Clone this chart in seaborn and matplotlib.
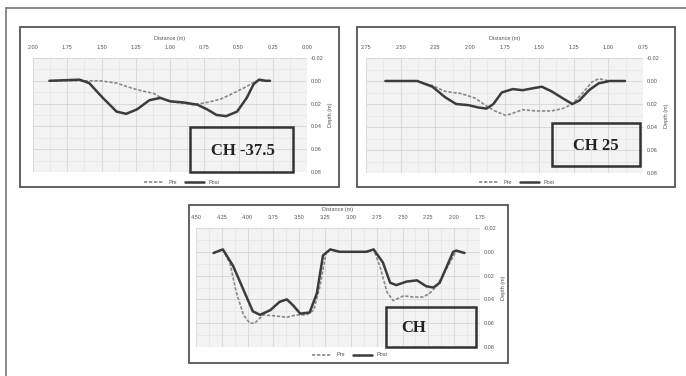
import matplotlib
matplotlib.use('Agg')
import matplotlib.pyplot as plt
import seaborn as sns
from matplotlib.lines import Line2D
from matplotlib.patches import Rectangle
from matplotlib.ticker import MultipleLocator, FormatStrFormatter

W, H = 686, 376

# CH -37.5
ch375_pre_x = [1.88, 1.66, 1.51, 1.39, 1.29, 1.20, 1.12, 1.05, 0.95, 0.83, 0.73, 0.63, 0.54, 0.44, 0.37, 0.27]
ch375_pre_y = [0.000, 0.000, 0.000, 0.002, 0.006, 0.009, 0.011, 0.016, 0.019, 0.021, 0.019, 0.016, 0.011, 0.005, 0.000, 0.000]
ch375_post_x = [1.88, 1.66, 1.59, 1.49, 1.39, 1.32, 1.24, 1.15, 1.07, 1.00, 0.90, 0.80, 0.73, 0.66, 0.59, 0.51, 0.44, 0.39, 0.35, 0.30, 0.27]
ch375_post_y = [0.000, -0.001, 0.002, 0.015, 0.027, 0.029, 0.025, 0.017, 0.015, 0.018, 0.019, 0.021, 0.025, 0.030, 0.031, 0.027, 0.015, 0.003, -0.001, 0.000, 0.000]

# CH 25
ch25_pre_x = [2.61, 2.38, 2.27, 2.18, 2.06, 1.96, 1.89, 1.82, 1.74, 1.69, 1.62, 1.53, 1.41, 1.33, 1.26, 1.19, 1.12, 1.07, 0.99, 0.88]
ch25_pre_y = [0.000, 0.000, 0.004, 0.009, 0.011, 0.015, 0.021, 0.026, 0.030, 0.028, 0.025, 0.026, 0.026, 0.024, 0.020, 0.011, 0.001, -0.002, 0.000, 0.000]
ch25_post_x = [2.61, 2.38, 2.27, 2.18, 2.10, 2.01, 1.94, 1.88, 1.83, 1.77, 1.69, 1.62, 1.53, 1.48, 1.41, 1.33, 1.26, 1.21, 1.14, 1.07, 0.99, 0.88]
ch25_post_y = [0.000, 0.000, 0.005, 0.014, 0.020, 0.021, 0.023, 0.024, 0.020, 0.010, 0.007, 0.008, 0.006, 0.005, 0.009, 0.015, 0.020, 0.017, 0.008, 0.002, 0.000, 0.000]

# CH
ch_pre_x = [4.33, 4.24, 4.17, 4.11, 4.04, 3.98, 3.93, 3.85, 3.72, 3.62, 3.53, 3.43, 3.36, 3.30, 3.24, 3.20, 3.11, 2.85, 2.78,
            2.72, 2.65, 2.59, 2.49, 2.40, 2.30, 2.24, 2.17, 2.11, 2.04, 1.98, 1.90]
ch_pre_y = [0.001, -0.002, 0.010, 0.034, 0.053, 0.060, 0.060, 0.053, 0.054, 0.055, 0.053, 0.053, 0.049, 0.029, 0.001, -0.002, 0.000, 0.000, -0.002,
            0.012, 0.034, 0.041, 0.037, 0.038, 0.038, 0.035, 0.029, 0.020, 0.009, -0.001, 0.001]
ch_post_x = [4.33, 4.24, 4.14, 4.04, 3.95, 3.88, 3.78, 3.69, 3.62, 3.56, 3.49, 3.40, 3.33, 3.27, 3.20, 3.11, 2.85, 2.78,
             2.69, 2.62, 2.56, 2.46, 2.36, 2.27, 2.20, 2.14, 2.07, 2.01, 1.98, 1.90]
ch_post_y = [0.001, -0.002, 0.012, 0.032, 0.050, 0.053, 0.049, 0.042, 0.040, 0.045, 0.052, 0.051, 0.035, 0.003, -0.002, 0.000, 0.000, -0.002,
             0.009, 0.026, 0.028, 0.025, 0.024, 0.029, 0.030, 0.026, 0.012, 0.000, -0.001, 0.001]

panel_names = ['CH -37.5', 'CH 25', 'CH']

sns.set_style("whitegrid")
plt.rcParams['font.family'] = ['Liberation Sans', 'DejaVu Sans']

fig = plt.figure(figsize=(W / 100, H / 100), dpi=100)


def fbox(l, t, r, b):
    return [l / W, 1 - b / H, (r - l) / W, (b - t) / H]


def frame(l, t, r, b, lw, ec):
    fig.add_artist(Rectangle((l / W, 1 - b / H), (r - l) / W, (b - t) / H,
                             transform=fig.transFigure, fill=False, lw=lw, ec=ec, fc='none'))


# outer frame (top + left only)
fig.add_artist(Line2D([6 / W, 1], [1 - 8 / H, 1 - 8 / H], transform=fig.transFigure, color='#777', lw=1.2))
fig.add_artist(Line2D([6 / W, 6 / W], [1 - 8 / H, 0], transform=fig.transFigure, color='#777', lw=1.2))

panels = [
    dict(frame=(20, 27, 339, 187), axes=(33, 58, 307, 172), xlim=(2.0, 0.0),
         pre=(ch375_pre_x, ch375_pre_y), post=(ch375_post_x, ch375_post_y),
         box=(190, 127, 293, 172), text=(243, 151), ha='center', leg=(182, 182)),
    dict(frame=(357, 27, 675, 187), axes=(366, 58, 643, 173), xlim=(2.75, 0.75),
         pre=(ch25_pre_x, ch25_pre_y), post=(ch25_post_x, ch25_post_y),
         box=(552, 123, 640, 166), text=(596, 146), ha='center', leg=(517, 182)),
    dict(frame=(189, 205, 508, 363), axes=(196, 228, 480, 347), xlim=(4.5, 1.75),
         pre=(ch_pre_x, ch_pre_y), post=(ch_post_x, ch_post_y),
         box=(386, 307, 476, 347), text=(401, 328), ha='left', leg=(350, 355)),
]

for name, p in zip(panel_names, panels):
    frame(*p['frame'], lw=1.3, ec='#555')
    ax = fig.add_axes(fbox(*p['axes']))
    ax.set_facecolor('#f3f3f3')
    sns.lineplot(x=p['pre'][0], y=p['pre'][1], ax=ax, color='#8a8a8a', lw=1.2,
                 linestyle=(0, (2, 1)), label='Pre', sort=False)
    sns.lineplot(x=p['post'][0], y=p['post'][1], ax=ax, color='#3c3c3c', lw=1.8,
                 label='Post', sort=False)
    ax.set_xlim(*p['xlim'])
    ax.set_ylim(0.08, -0.02)
    ax.xaxis.set_major_locator(MultipleLocator(0.25))
    ax.xaxis.set_minor_locator(MultipleLocator(0.125))
    ax.yaxis.set_major_locator(MultipleLocator(0.02))
    ax.yaxis.set_minor_locator(MultipleLocator(0.01))
    ax.xaxis.set_major_formatter(FormatStrFormatter('%.2f'))
    ax.yaxis.set_major_formatter(FormatStrFormatter('%.2f'))
    ax.grid(which='major', color='#d6d6d6', lw=0.6)
    ax.grid(which='minor', color='#e4e4e4', lw=0.5)
    ax.xaxis.tick_top()
    ax.xaxis.set_label_position('top')
    ax.yaxis.tick_right()
    ax.yaxis.set_label_position('right')
    ax.set_xlabel('Distance (m)', fontsize=4, color='#555', labelpad=3)
    ax.set_ylabel('Depth (m)', fontsize=4, color='#555', labelpad=3)
    ax.tick_params(which='both', length=0, labelsize=4, labelcolor='#555')
    ax.tick_params(axis='x', pad=6)
    ax.tick_params(axis='y', pad=3)
    for s in ax.spines.values():
        s.set_visible(False)
    lx, ly = p['leg']
    ax.legend(loc='center', bbox_to_anchor=(lx / W, 1 - ly / H), bbox_transform=fig.transFigure,
              ncol=2, frameon=False, fontsize=4, handlelength=3.5, columnspacing=1.5,
              labelcolor='#555')
    frame(*p['box'], lw=1.8, ec='#333')
    tx, ty = p['text']
    fig.text(tx / W, 1 - ty / H, name, ha=p['ha'], va='center', fontsize=12,
             fontweight='bold', family=['Liberation Serif', 'DejaVu Serif'], color='#222')

fig.savefig('out.png', dpi=100, facecolor='white')
